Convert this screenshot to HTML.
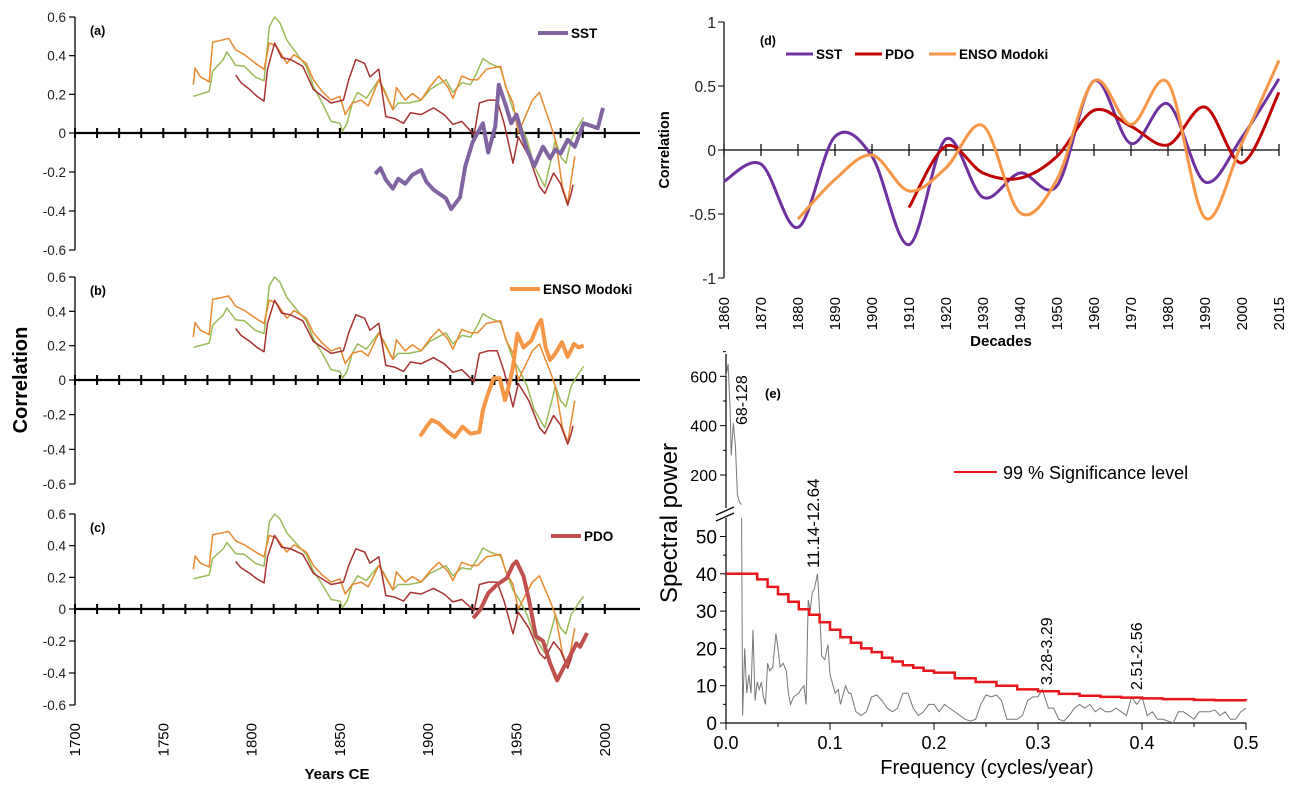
<!DOCTYPE html>
<html><head><meta charset="utf-8"><style>
body{margin:0;background:#fff;}
svg{display:block;font-family:"Liberation Sans",Arial,sans-serif;}
</style></head><body>
<svg id="fig" width="1298" height="795" viewBox="0 0 1298 795" xmlns="http://www.w3.org/2000/svg"></svg>
<script>
// ===== Left panels data (years, correlation) =====
const greenYears=[1767,1776,1778,1784,1786,1791,1796,1802,1807,1808,1810,1813,1816,1820,1826,1831,1835,1840,1845,1850,1851.5,1854,1857,1860,1865,1872,1875,1880,1883,1889,1896,1901,1910,1914,1919,1924,1928,1931,1935,1941,1944,1948,1951,1956,1960,1966,1970,1972,1975,1978,1981,1985,1988];
const greenVals=[0.19,0.215,0.32,0.38,0.42,0.35,0.345,0.29,0.27,0.36,0.55,0.6,0.57,0.48,0.405,0.345,0.24,0.155,0.06,0.05,0.01,0.05,0.155,0.21,0.18,0.275,0.225,0.12,0.155,0.155,0.17,0.225,0.275,0.21,0.26,0.25,0.32,0.385,0.36,0.335,0.24,0.12,0.07,-0.035,-0.17,-0.275,-0.12,-0.035,-0.12,-0.155,-0.035,0.035,0.08];
const orangeYears=[1767,1768,1771,1776,1778,1783,1787,1791,1796,1803,1807,1810,1814,1820,1824,1831,1835,1840,1845,1850,1853,1857,1862,1866,1872,1880,1882,1887,1891,1896,1901,1906,1911,1914,1919,1924,1928,1933,1941,1944,1948,1951,1955,1959,1963,1965,1969,1972,1976,1979,1981,1983];
const orangeVals=[0.25,0.335,0.29,0.265,0.47,0.48,0.49,0.43,0.405,0.355,0.33,0.465,0.45,0.36,0.405,0.36,0.275,0.215,0.17,0.19,0.095,0.155,0.17,0.14,0.275,0.12,0.235,0.17,0.205,0.17,0.24,0.295,0.24,0.18,0.295,0.275,0.275,0.33,0.345,0.235,0.155,0.0,0.085,0.17,0.21,0.155,0.05,-0.035,-0.275,-0.36,-0.24,-0.12];
const redYears=[1791,1794,1799,1803,1807,1809,1813,1817,1822,1829,1835,1840,1845,1852,1855,1859,1864,1867,1872,1876,1881,1886,1890,1896,1903,1909,1914,1919,1924,1926,1929,1934,1939,1943,1948,1951,1957,1963,1966,1971,1975,1979,1981,1982];
const redVals=[0.3,0.26,0.225,0.19,0.165,0.33,0.465,0.39,0.38,0.345,0.225,0.19,0.155,0.17,0.275,0.38,0.36,0.29,0.33,0.085,0.075,0.05,0.105,0.095,0.13,0.095,0.045,0.06,0.01,-0.01,0.155,0.17,0.17,0.05,-0.155,-0.02,-0.12,-0.275,-0.31,-0.205,-0.26,-0.37,-0.31,-0.265];
const sstYears=[1870,1873,1876,1880,1883,1887,1891,1896,1899,1903,1906,1910,1913,1918,1921,1925,1927,1931,1934,1938,1940,1944,1947,1950,1953,1956,1960,1965,1969,1972,1975,1979,1983,1988,1993,1996,1999];
const sstVals=[-0.21,-0.18,-0.24,-0.285,-0.235,-0.26,-0.215,-0.19,-0.25,-0.29,-0.31,-0.335,-0.39,-0.33,-0.17,-0.05,-0.015,0.05,-0.1,0.035,0.25,0.14,0.05,0.095,0.0,-0.085,-0.17,-0.07,-0.13,-0.085,-0.105,-0.035,-0.07,0.05,0.035,0.025,0.13];
const ensoYears=[1895.4,1899,1902,1906,1910,1915,1919.5,1924,1929,1931,1933,1937,1940.5,1943.5,1946,1948,1950.5,1954,1958.5,1962,1964,1966.5,1969,1972,1975.7,1979,1982.6,1985,1988];
const ensoVals=[-0.325,-0.27,-0.23,-0.25,-0.29,-0.33,-0.27,-0.31,-0.3,-0.174,-0.106,0.01,0.01,-0.116,-0.02,0.077,0.27,0.19,0.23,0.32,0.35,0.19,0.116,0.155,0.22,0.135,0.21,0.19,0.2];
const pdoYears=[1925.5,1929.5,1934,1939,1944.5,1948,1950,1954,1957,1961,1965,1969,1973,1977,1980,1984,1986,1990];
const pdoVals=[-0.057,-0.004,0.10,0.154,0.196,0.28,0.30,0.206,0.06,-0.17,-0.20,-0.34,-0.446,-0.36,-0.30,-0.215,-0.236,-0.15];
const corrTicks=[0.6,0.4,0.2,0,-0.2,-0.4,-0.6];
const yearTicks=[1700,1750,1800,1850,1900,1950,2000];

// ===== Panel (d) data =====
const decadeLabels=["1860","1870","1880","1890","1900","1910","1920","1930","1940","1950","1960","1970","1980","1990","2000","2015"];
const dSST=[-0.245,-0.11,-0.605,0.105,-0.05,-0.74,0.086,-0.37,-0.18,-0.28,0.54,0.05,0.36,-0.25,0.1,0.556];
const dPDO=[null,null,null,null,null,-0.45,0.03,-0.18,-0.22,-0.05,0.31,0.185,0.04,0.335,-0.1,0.45];
const dENSO=[null,null,-0.54,-0.23,-0.04,-0.32,-0.14,0.19,-0.49,-0.23,0.54,0.2,0.525,-0.53,0.055,0.70];
const dTicks=[1,0.5,0,-0.5,-1];

// ===== Panel (e) data =====
const specUpFreq=[0.0,0.002,0.004,0.005,0.007,0.009,0.011,0.013,0.015];
const specUpVals=[600,650,460,280,410,320,120,90,80];
const specFreq=[0.015,0.016,0.018,0.02,0.022,0.024,0.026,0.028,0.03,0.032,0.034,0.036,0.038,0.04,0.042,0.045,0.048,0.05,0.052,0.055,0.058,0.06,0.062,0.065,0.07,0.072,0.075,0.077,0.079,0.081,0.083,0.085,0.088,0.09,0.092,0.095,0.098,0.1,0.105,0.108,0.11,0.115,0.118,0.12,0.125,0.13,0.135,0.14,0.145,0.15,0.155,0.16,0.165,0.17,0.175,0.18,0.185,0.19,0.195,0.2,0.205,0.21,0.215,0.22,0.225,0.23,0.235,0.24,0.245,0.25,0.255,0.26,0.265,0.27,0.275,0.28,0.285,0.29,0.295,0.3,0.304,0.31,0.315,0.32,0.325,0.33,0.335,0.34,0.345,0.35,0.355,0.36,0.365,0.37,0.375,0.38,0.385,0.39,0.395,0.4,0.405,0.41,0.415,0.42,0.425,0.43,0.435,0.44,0.445,0.45,0.455,0.46,0.465,0.47,0.475,0.48,0.485,0.49,0.495,0.5];
const specVals=[55,2,20,8,13,8,25,6,11,9,11,7,5,16,14,15,24,20,15,16,14,8,5,7,8,9,10,5,33,30,35,36,40,30,18,17,21,13,8,9,5,10,8,8,3,2,3,7,7.5,6,4,3,4,8,8,4,2,3,5,5,3,5,4,3,2,1,0.5,1,5,7.5,7,7.5,6,1,1,1,2,6,7,7,9,4,4,1,0.5,2,4,5,4,5,3,4,3,3,4,3,2,7,5,7,2,3,1,1,0.5,0,3,3,2,1,3,3,3,3.5,2,3,1,1,3,4];
const sigFreq=[0,0.02,0.03,0.04,0.05,0.06,0.07,0.08,0.09,0.1,0.11,0.12,0.13,0.14,0.15,0.16,0.17,0.18,0.19,0.2,0.22,0.24,0.26,0.28,0.3,0.32,0.34,0.36,0.38,0.4,0.42,0.45,0.47,0.5];
const sigVals=[40,40,38.5,36.5,34.5,32.5,30.5,29,27,25,23,21.5,20,19,17.5,16.5,15.5,14.8,14,13.5,12,11,10,9,8.5,7.8,7.3,7,6.8,6.6,6.4,6.2,6.1,6];
const eLowTicks=[0,10,20,30,40,50];
const eUpTicks=[200,400,600];
const eXTicks=[0,0.1,0.2,0.3,0.4,0.5];

const NS="http://www.w3.org/2000/svg";
const svg=document.getElementById('fig');
function mk(tag,attrs,parent){const e=document.createElementNS(NS,tag);for(const k in attrs)e.setAttribute(k,attrs[k]);(parent||svg).appendChild(e);return e;}
function txt(s,attrs,parent){const e=mk('text',attrs,parent);e.textContent=s;return e;}

// ===== Left panels =====
const xYear=yr=>75+(yr-1700)*1.766;
const panels=[
 {id:'a',y0:133,top:17,bot:250,thick:{ys:sstYears,vs:sstVals,c:'#8064a2',name:'SST'},leg:{x:538,y:33}},
 {id:'b',y0:380,top:277,bot:484,thick:{ys:ensoYears,vs:ensoVals,c:'#f79646',name:'ENSO Modoki'},leg:{x:510,y:289}},
 {id:'c',y0:609,top:514,bot:705,thick:{ys:pdoYears,vs:pdoVals,c:'#c0504d',name:'PDO'},leg:{x:551,y:536}}
];
function polyPath(xs,vs,fx,fy){let d='';for(let i=0;i<xs.length;i++){d+=(i?'L':'M')+fx(xs[i]).toFixed(1)+','+fy(vs[i]).toFixed(1);}return d;}
panels.forEach(p=>{
  const g=mk('g',{});
  
  
  const sc=(p.y0-p.top)/0.6, scb=(p.bot-p.y0)/0.6;
  const yv=v=>v>=0?p.y0-v*sc:p.y0-v*scb;
  const ax=mk('line',{x1:75,y1:p.top,x2:75,y2:p.bot,stroke:'#000','stroke-width':1.3},g);
  
  
  corrTicks.forEach(t=>{
    mk('line',{x1:69,y1:yv(t),x2:75,y2:yv(t),stroke:'#000','stroke-width':1.2},g);
    const l=txt(String(t),{x:66,y:yv(t)+5,'text-anchor':'end','font-size':13.5,fill:'#222'},g);
    
    
  });
  const zl=mk('line',{x1:75,y1:p.y0,x2:640,y2:p.y0,stroke:'#000','stroke-width':2.2},g);
  
  
  for(let yr=1700;yr<=2000;yr+=12.5){mk('line',{x1:xYear(yr),y1:p.y0-5,x2:xYear(yr),y2:p.y0+5,stroke:'#000','stroke-width':2},g);}
  const pl=txt('('+p.id+')',{x:90,y:p.top+18,'font-size':12.5,'font-weight':'bold'},g);
  
  
  [[greenYears,greenVals,'#9bbb59','green'],[orangeYears,orangeVals,'#e8892f','orange'],[redYears,redVals,'#a83232','red']].forEach(s=>{
    const e=mk('path',{d:polyPath(s[0],s[1],xYear,yv),fill:'none',stroke:s[2],'stroke-width':1.5,'stroke-linejoin':'round'},g);
    
    
  });
  const t=p.thick;
  const th=mk('path',{d:polyPath(t.ys,t.vs,xYear,yv),fill:'none',stroke:t.c,'stroke-width':4,'stroke-linejoin':'round'},g);
  
  
  const ll=mk('line',{x1:p.leg.x,y1:p.leg.y,x2:p.leg.x+30,y2:p.leg.y,stroke:t.c,'stroke-width':4},g);
  
  
  const lt=txt(t.name,{x:p.leg.x+33,y:p.leg.y+5,'font-size':13.5,'font-weight':'bold'},g);
  
  
});
yearTicks.forEach(yr=>{
  const l=txt(String(yr),{x:0,y:0,'text-anchor':'end','font-size':15,transform:`translate(${xYear(yr)+5},723) rotate(-90)`});
  
  
});
{const l=txt('Years CE',{x:337,y:779,'text-anchor':'middle','font-size':15,'font-weight':'bold'});

const c=txt('Correlation',{x:0,y:0,'text-anchor':'middle','font-size':20,'font-weight':'bold',transform:'translate(27,380) rotate(-90)'});
}

// ===== Panel (d) =====
{
const g=mk('g',{});


const xi=i=>724+i*(1279-724)/15;
const yd=v=>150-v*128;
mk('line',{x1:724,y1:22,x2:724,y2:278,stroke:'#000','stroke-width':1.2},g);
dTicks.forEach(t=>{mk('line',{x1:718,y1:yd(t),x2:724,y2:yd(t),stroke:'#000'},g);
  const l=txt(String(t),{x:716,y:yd(t)+6,'text-anchor':'end','font-size':15.5,fill:'#222'},g);
  });
mk('line',{x1:724,y1:150,x2:1279,y2:150,stroke:'#000','stroke-width':1.3},g);
decadeLabels.forEach((s,i)=>{mk('line',{x1:xi(i),y1:144,x2:xi(i),y2:156,stroke:'#000','stroke-width':1.2},g);
  const l=txt(s,{x:0,y:0,'text-anchor':'end','font-size':15,transform:`translate(${xi(i)+5},297) rotate(-90)`},g);
  });
function smooth(vals){const pts=[];vals.forEach((v,i)=>{if(v!==null)pts.push([xi(i),yd(v)]);});
  let d='M'+pts[0][0]+','+pts[0][1];
  for(let i=0;i<pts.length-1;i++){const p0=pts[Math.max(0,i-1)],p1=pts[i],p2=pts[i+1],p3=pts[Math.min(pts.length-1,i+2)];
    const c1=[p1[0]+(p2[0]-p0[0])/6,p1[1]+(p2[1]-p0[1])/6],c2=[p2[0]-(p3[0]-p1[0])/6,p2[1]-(p3[1]-p1[1])/6];
    d+=`C${c1[0].toFixed(1)},${c1[1].toFixed(1)} ${c2[0].toFixed(1)},${c2[1].toFixed(1)} ${p2[0].toFixed(1)},${p2[1].toFixed(1)}`;}
  return d;}
[[dSST,'#7030a0','d-series-sst'],[dPDO,'#c00000','d-series-pdo'],[dENSO,'#f79646','d-series-enso-modoki']].forEach(s=>{
  const e=mk('path',{d:smooth(s[0]),fill:'none',stroke:s[1],'stroke-width':3},g);
  });
const pl=txt('(d)',{x:760,y:45,'font-size':12.5,'font-weight':'bold'},g);

[[786,'#7030a0','SST'],[855,'#c00000','PDO'],[929,'#f79646','ENSO Modoki']].forEach(s=>{
  const l=mk('line',{x1:s[0],y1:54,x2:s[0]+27,y2:54,stroke:s[1],'stroke-width':3},g);
  
  const t=txt(s[2],{x:s[0]+30,y:59,'font-size':13.5,'font-weight':'bold'},g);
  });
const xt=txt('Decades',{x:1001,y:346,'text-anchor':'middle','font-size':15,'font-weight':'bold'},g);

const yt=txt('Correlation',{x:0,y:0,'text-anchor':'middle','font-size':14.5,'font-weight':'bold',transform:'translate(669,150) rotate(-90)'},g);

}

// ===== Panel (e) =====
{
const g=mk('g',{});


const xf=f=>726+f*1040;
const yl=v=>723-v*3.73;
const yu=v=>475-(v-200)*0.2467;
mk('line',{x1:726,y1:723,x2:726,y2:518,stroke:'#000','stroke-width':1.2},g);
mk('line',{x1:726,y1:508,x2:726,y2:354,stroke:'#000','stroke-width':1.2},g);
mk('line',{x1:716,y1:521,x2:734,y2:513,stroke:'#000','stroke-width':1.3},g);
mk('line',{x1:716,y1:515,x2:734,y2:507,stroke:'#000','stroke-width':1.3},g);
mk('line',{x1:726,y1:723,x2:1246,y2:723,stroke:'#000','stroke-width':1.2},g);
eLowTicks.forEach(t=>{mk('line',{x1:720,y1:yl(t),x2:726,y2:yl(t),stroke:'#000'},g);
  if(t<50)mk('line',{x1:723,y1:yl(t+5),x2:726,y2:yl(t+5),stroke:'#000'},g);
  const l=txt(String(t),{x:717,y:yl(t)+7,'text-anchor':'end','font-size':19},g);
  });
eUpTicks.forEach(t=>{mk('line',{x1:720,y1:yu(t),x2:726,y2:yu(t),stroke:'#000'},g);
  mk('line',{x1:723,y1:yu(t+100),x2:726,y2:yu(t+100),stroke:'#000'},g);
  const l=txt(String(t),{x:717,y:yu(t)+6,'text-anchor':'end','font-size':16},g);
  });
eXTicks.forEach(t=>{mk('line',{x1:xf(t),y1:723,x2:xf(t),y2:730,stroke:'#000'},g);
  if(t<0.5)mk('line',{x1:xf(t+0.05),y1:723,x2:xf(t+0.05),y2:727,stroke:'#000'},g);
  const l=txt(t.toFixed(1),{x:xf(t),y:749,'text-anchor':'middle','font-size':18},g);
  });
const up=mk('path',{d:polyPath(specUpFreq,specUpVals,xf,yu),fill:'none',stroke:'#777','stroke-width':1},g);

const lo=mk('path',{d:polyPath(specFreq,specVals,xf,yl),fill:'none',stroke:'#777','stroke-width':1},g);

let d='M'+xf(sigFreq[0])+','+yl(sigVals[0]);
for(let i=1;i<sigFreq.length;i++){d+='H'+xf(sigFreq[i]).toFixed(1)+'V'+yl(sigVals[i]).toFixed(1);}
const sg=mk('path',{d:d,fill:'none',stroke:'#e8161a','stroke-width':2.5},g);

const ll=mk('line',{x1:954,y1:472,x2:997,y2:472,stroke:'#e8161a','stroke-width':2},g);

const lt=txt('99 % Significance level',{x:1003,y:479,'font-size':18},g);

[['68-128',747,425,16],['11.14-12.64',819,568,17],['3.28-3.29',1052,685,16],['2.51-2.56',1142,690,16]].forEach(a=>{
  const t=txt(a[0],{x:0,y:0,'font-size':a[3],transform:`translate(${a[1]},${a[2]}) rotate(-90)`},g);
  });
const pl=txt('(e)',{x:765,y:398,'font-size':13,'font-weight':'bold'},g);

const xt=txt('Frequency (cycles/year)',{x:987,y:774,'text-anchor':'middle','font-size':20},g);

const yt=txt('Spectral power',{x:0,y:0,'text-anchor':'middle','font-size':24,transform:'translate(677,523) rotate(-90)'},g);

}
</script>
</body></html>
